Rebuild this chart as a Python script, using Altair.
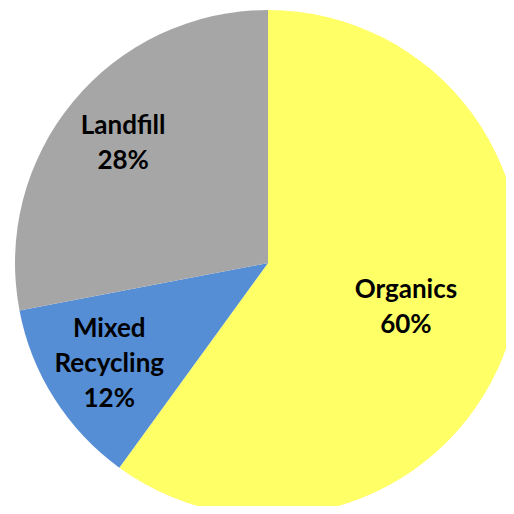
import altair as alt
import pandas as pd

categories = ["Organics", "Mixed Recycling", "Landfill"]
label_lines = ["Organics", "Mixed\nRecycling", "Landfill"]
values = [60, 12, 28]
colors = ["#FFFF66", "#558ED5", "#A6A6A6"]

df = pd.DataFrame({
    "category": categories,
    "value": values,
    "idx": list(range(len(categories))),
    "label": [f"{l}\n{v}%" for l, v in zip(label_lines, values)],
})

cx, cy, R = 260, 255, 253
LH = 35

base = alt.Chart(df).transform_joinaggregate(
    total="sum(value)"
).transform_window(
    cum="sum(value)", sort=[alt.SortField("idx", order="ascending")],
    frame=[None, 0]
).transform_calculate(
    a0="2 * PI * (datum.cum - datum.value) / datum.total",
    a1="2 * PI * datum.cum / datum.total",
    amid="2 * PI * (datum.cum - datum.value / 2) / datum.total",
    r="datum.category == 'Organics' ? 145 : 188",
).encode(
    x=alt.value(cx),
    y=alt.value(cy),
)

arcs = base.mark_arc(outerRadius=R).encode(
    theta=alt.Theta("a0:Q", scale=None),
    theta2="a1:Q",
    color=alt.Color("category:N",
                    scale=alt.Scale(domain=categories, range=colors),
                    legend=None),
)

text_style = dict(font="Lato", fontSize=26, fontWeight="bold", color="#000000",
                  lineBreak="\n", lineHeight=LH, align="center", baseline="middle")
text_enc = dict(
    text="label:N",
    theta=alt.Theta("amid:Q", scale=None),
    radius=alt.Radius("r:Q", scale=None),
)

t2 = base.transform_filter(
    "datum.category != 'Mixed Recycling'"
).mark_text(dy=-LH / 2, **text_style).encode(**text_enc)
t3 = base.transform_filter(
    "datum.category == 'Mixed Recycling'"
).mark_text(dy=-LH, **text_style).encode(**text_enc)

chart = alt.layer(arcs, t2, t3).properties(
    width=498, height=498, padding=0, autosize="none"
).configure_view(stroke=None)

chart.save("out.html", embed_options={"renderer": "svg", "actions": False})
